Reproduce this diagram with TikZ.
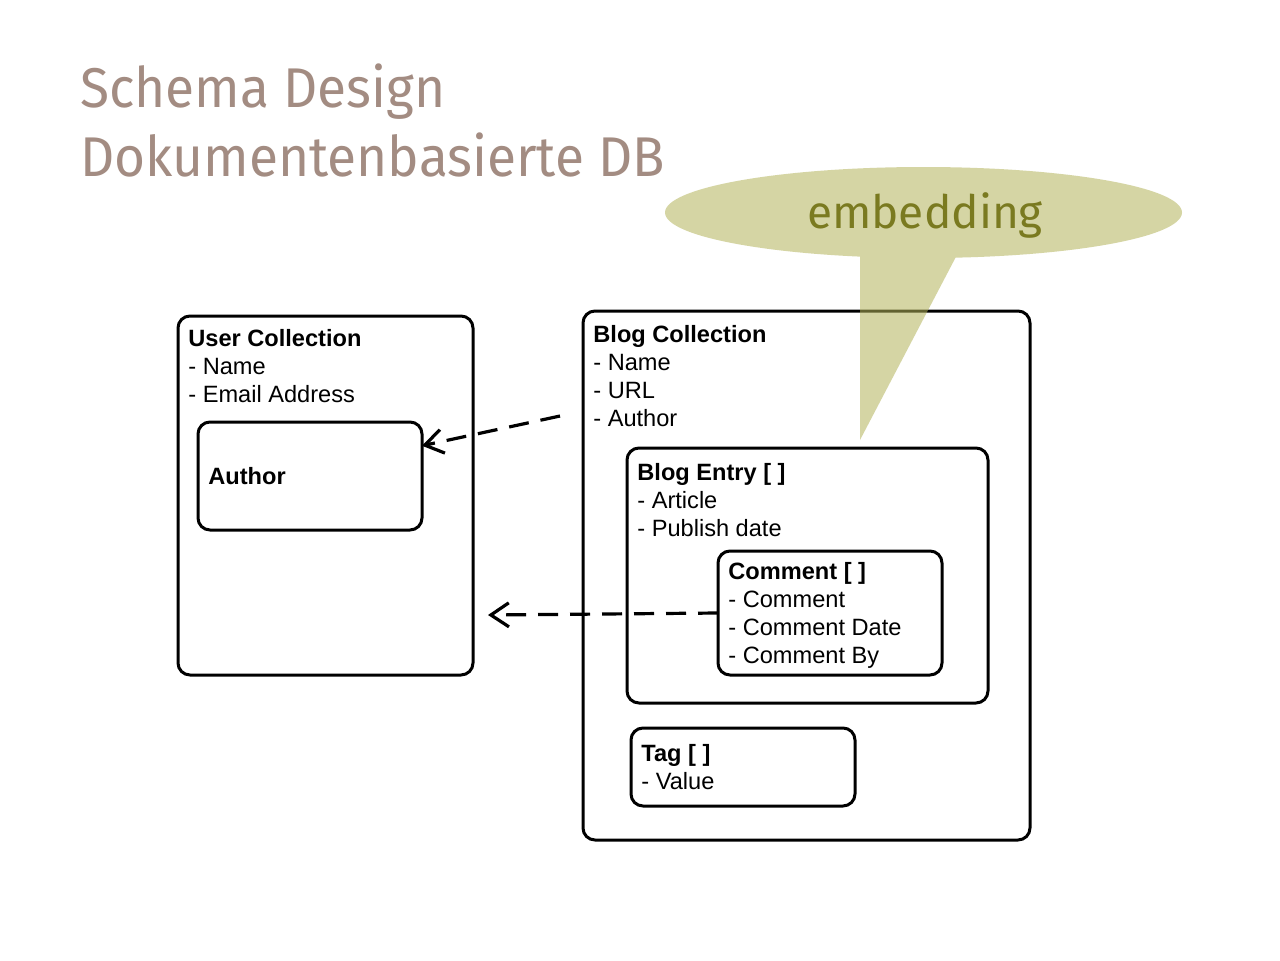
\documentclass[tikz,border=0pt]{standalone}
\usepackage{fontspec}
\setmainfont{Liberation Sans}
\newfontfamily\firafont{Fira Sans}
\usetikzlibrary{fit,arrows.meta,calc}
\definecolor{titlecol}{RGB}{163,140,130}
\definecolor{embcol}{RGB}{122,122,32}
\definecolor{bubblecol}{RGB}{180,180,90}
\begin{document}
\begin{tikzpicture}[x=0.5pt,y=-0.5pt,
  boxst/.style={draw, line width=1.5pt, rounded corners=6pt, inner sep=0pt, outer sep=0pt},
  txt/.style={anchor=north west, inner sep=0pt, align=left, font=\fontsize{11.8}{14}\selectfont},
  conn/.style={line width=1.6pt, dash pattern=on 10pt off 6pt, -{Straight Barb[length=9pt,width=12pt,line width=1.6pt]}},
  titlest/.style={anchor=base west, inner sep=0pt, text=titlecol, font=\firafont\fontsize{28}{32}\selectfont}
]
\useasboundingbox (0,0) rectangle (1280,960);
\fill[white] (0,0) rectangle (1280,960);

% title
\node[titlest] (t1) at (80,107) {\scalebox{0.95}[1]{Schema Design}};
\node[titlest] (t2) at (80,176) {\scalebox{0.95}[1]{Dokumentenbasierte DB}};

% boxes
\node[boxst, fit={(178,316) (473,675)}] (user) {};
\node[boxst, fit={(198,422) (422,530)}] (author) {};
\node[boxst, fit={(583,311) (1030,840)}] (blog) {};
\node[boxst, fit={(627,448) (988,703)}] (entry) {};
\node[boxst, fit={(718,551) (942,675)}] (comment) {};
\node[boxst, fit={(631,728) (855,806)}] (tag) {};

% texts
\node[txt] (usertxt) at (188,329) {\textbf{User Collection}\\- Name\\- Email Address};
\node[txt, anchor=west] (authortxt) at (208,476) {\textbf{Author}};
\node[txt] (blogtxt) at (593,325) {\textbf{Blog Collection}\\- Name\\- URL\\- Author};
\node[txt] (entrytxt) at (637,463) {\textbf{Blog Entry [ ]}\\- Article\\- Publish date};
\node[txt] (commenttxt) at (728,562) {\textbf{Comment [ ]}\\- Comment\\- Comment Date\\- Comment By};
\node[txt] (tagtxt) at (641,744) {\textbf{Tag [ ]}\\- Value};

% connectors
\coordinate (a1start) at (560,416);
\coordinate (a2end) at (488,615);
\draw[conn] (a1start) -- ($(author.north east)!0.22!(author.south east)$);
\draw[conn] (comment.west) -- (a2end);

% speech bubble
\begin{scope}[transparency group, opacity=0.55]
\fill[bubblecol] (923.5,212.5) ellipse [x radius=258.5, y radius=45.5];
\fill[bubblecol] (860,230) -- (970,230) -- (860,440) -- cycle;
\end{scope}
\node[anchor=base, inner sep=0pt, text=embcol, font=\firafont\fontsize{23}{26}\selectfont] (emb) at (925,228) {embedding};
\end{tikzpicture}
\end{document}
